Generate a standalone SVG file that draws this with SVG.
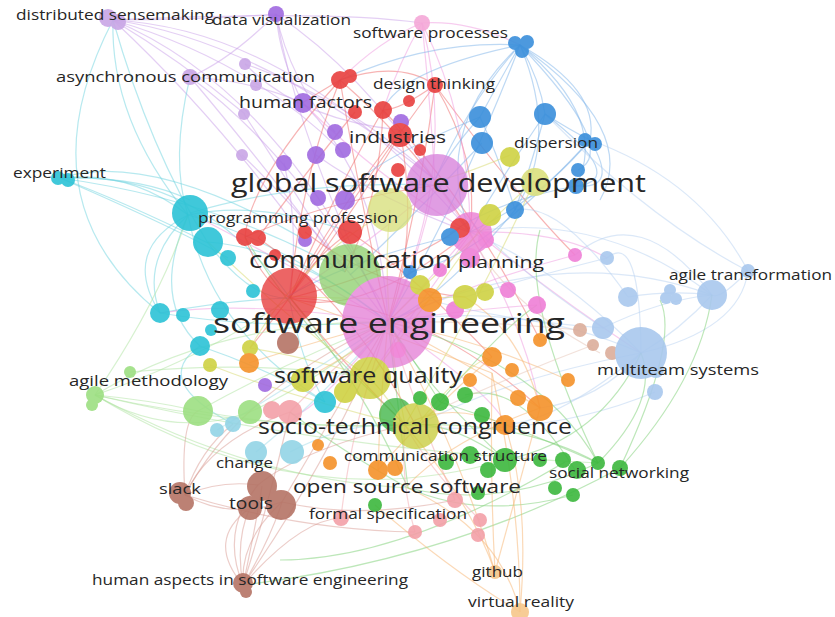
<svg xmlns="http://www.w3.org/2000/svg" width="835" height="617" viewBox="0 0 835 617">
<style>
.e path{fill:none;stroke-width:1.2;opacity:.5}
.lv{stroke:#c9a0ea}.cy{stroke:#6fd3e0}.rd{stroke:#f06a6a}.pk{stroke:#f09adf}.bl{stroke:#7eb4ea}.lb{stroke:#b8d1f2}.gn{stroke:#7ccf74}.lg{stroke:#aee3a0}.br{stroke:#d99c94}.or{stroke:#f7b370}.sl{stroke:#f4a8ae}.tn{stroke:#e6c3b5}.yl{stroke:#d7d96e}.lc{stroke:#a2dbea}
circle{stroke:none}
#nodes{opacity:.9}
.t{font-family:"Open Sans","Noto Sans","DejaVu Sans",sans-serif;fill:#262626}
</style>
<rect width="835" height="617" fill="#ffffff"/>
<g id="connectors" class="e">
<path class="lv" d="M113,20 Q250,60 340,150"/><path class="lv" d="M113,20 Q260,40 435,180"/><path class="lv" d="M113,20 Q300,30 470,232"/><path class="lv" d="M113,20 Q220,120 305,240"/><path class="lv" d="M113,20 Q180,60 245,114"/><path class="lv" d="M113,20 Q280,90 388,322"/><path class="lv" d="M113,20 Q200,20 276,14"/><path class="lv" d="M276,14 Q280,60 303,103"/><path class="lv" d="M276,14 Q360,70 435,180"/><path class="lv" d="M276,14 Q290,80 335,132"/><path class="lv" d="M276,14 Q300,150 388,322"/><path class="lv" d="M276,14 Q230,60 190,77"/><path class="lv" d="M190,77 Q250,80 303,103"/><path class="lv" d="M190,77 Q290,150 380,300"/><path class="lv" d="M190,77 Q260,160 345,272"/><path class="lv" d="M245,64 Q300,120 400,130"/><path class="lv" d="M245,64 Q350,100 435,180"/><path class="lv" d="M244,114 Q300,200 345,272"/><path class="lv" d="M242,155 Q310,220 388,322"/><path class="lv" d="M113,20 Q330,10 422,23"/><path class="lv" d="M303,103 Q380,180 388,322"/><path class="lv" d="M316,155 Q380,200 471,233"/><path class="lv" d="M284,163 Q300,230 289,296"/>
<path class="cy" d="M113,20 Q110,120 188,215"/><path class="cy" d="M113,20 Q150,150 208,243"/><path class="cy" d="M113,20 Q20,200 160,313"/><path class="cy" d="M190,77 Q170,160 188,215"/><path class="cy" d="M60,178 Q130,170 188,215"/><path class="cy" d="M60,178 Q120,200 208,243"/><path class="cy" d="M60,178 Q200,170 290,298"/><path class="cy" d="M60,178 Q220,200 345,272"/><path class="cy" d="M60,178 Q180,230 228,258"/><path class="cy" d="M60,178 Q150,150 305,240"/><path class="cy" d="M60,178 Q140,176 190,200"/><path class="cy" d="M188,215 Q140,260 160,313"/><path class="cy" d="M188,215 Q150,300 200,346"/><path class="cy" d="M188,215 Q280,240 388,322"/><path class="cy" d="M188,215 Q210,330 325,402"/><path class="cy" d="M188,215 Q260,200 350,232"/><path class="cy" d="M208,243 Q250,300 290,298"/><path class="cy" d="M160,313 Q230,300 290,298"/><path class="cy" d="M160,313 Q260,330 388,322"/><path class="cy" d="M200,346 Q270,370 325,402"/><path class="cy" d="M200,346 Q150,380 233,424"/><path class="cy" d="M160,313 Q120,250 188,215"/><path class="cy" d="M325,402 Q300,360 289,296"/><path class="cy" d="M208,242 Q300,250 388,322"/><path class="cy" d="M190,213 Q300,180 437,185"/>
<path class="rd" d="M340,80 Q360,200 388,322"/><path class="rd" d="M340,80 Q300,180 290,298"/><path class="rd" d="M340,80 Q400,60 435,85"/><path class="rd" d="M340,80 Q420,150 470,232"/><path class="rd" d="M435,85 Q420,200 388,322"/><path class="rd" d="M435,85 Q350,200 290,298"/><path class="rd" d="M435,85 Q480,160 470,232"/><path class="rd" d="M383,110 Q330,200 290,298"/><path class="rd" d="M383,110 Q380,200 345,272"/><path class="rd" d="M400,130 Q330,220 290,298"/><path class="rd" d="M400,130 Q420,240 388,322"/><path class="rd" d="M355,112 Q300,180 258,238"/><path class="rd" d="M350,232 Q310,260 290,298"/><path class="rd" d="M245,237 Q260,280 290,298"/><path class="rd" d="M290,298 Q340,360 405,425"/><path class="rd" d="M290,298 Q420,300 540,408"/><path class="rd" d="M290,298 Q360,320 470,232"/><path class="rd" d="M460,228 Q400,270 290,298"/><path class="rd" d="M340,80 Q250,180 245,237"/><path class="rd" d="M435,85 Q520,200 575,255"/><path class="rd" d="M340,80 Q290,110 303,103"/><path class="rd" d="M435,85 Q400,110 383,110"/><path class="rd" d="M245,237 Q330,200 437,185"/><path class="rd" d="M258,238 Q350,300 416,426"/><path class="rd" d="M350,232 Q420,280 492,357"/><path class="rd" d="M305,232 Q380,290 465,297"/><path class="rd" d="M400,135 Q330,250 250,348"/><path class="rd" d="M383,110 Q470,200 540,340"/>
<path class="pk" d="M422,23 Q430,100 435,180"/><path class="pk" d="M422,23 Q460,170 388,322"/><path class="pk" d="M422,23 Q380,40 340,80"/><path class="pk" d="M422,23 Q470,120 470,232"/><path class="pk" d="M422,23 Q470,20 520,45"/><path class="pk" d="M435,180 Q420,260 388,322"/><path class="pk" d="M470,232 Q430,280 388,322"/><path class="pk" d="M575,255 Q480,280 388,322"/><path class="pk" d="M537,305 Q460,310 388,322"/><path class="pk" d="M388,322 Q300,430 290,412"/><path class="pk" d="M388,322 Q500,400 505,425"/><path class="pk" d="M470,232 Q560,230 607,258"/><path class="pk" d="M486,240 Q560,300 641,353"/><path class="pk" d="M422,23 Q400,60 383,110"/><path class="pk" d="M437,185 Q360,250 289,296"/><path class="pk" d="M471,233 Q400,330 370,378"/><path class="pk" d="M388,322 Q300,270 190,213"/><path class="pk" d="M437,185 Q520,300 540,408"/><path class="pk" d="M471,233 Q380,180 303,103"/><path class="pk" d="M388,322 Q250,300 160,313"/>
<path class="bl" d="M520,45 Q500,80 480,117"/><path class="bl" d="M520,45 Q540,80 545,114"/><path class="bl" d="M520,45 Q470,100 435,180"/><path class="bl" d="M520,45 Q460,200 388,322"/><path class="bl" d="M520,45 Q600,90 590,140"/><path class="bl" d="M520,45 Q610,120 576,186"/><path class="bl" d="M520,45 Q620,150 578,170"/><path class="bl" d="M520,45 Q430,40 340,80"/><path class="bl" d="M520,45 Q430,130 470,232"/><path class="bl" d="M520,45 Q560,140 515,210"/><path class="bl" d="M520,45 Q400,70 383,110"/><path class="bl" d="M545,114 Q570,130 590,140"/><path class="bl" d="M545,114 Q530,170 515,210"/><path class="bl" d="M545,114 Q500,180 470,232"/><path class="bl" d="M545,114 Q630,180 576,186"/><path class="bl" d="M480,117 Q450,150 435,180"/><path class="bl" d="M480,117 Q500,160 515,210"/><path class="bl" d="M590,140 Q540,200 470,232"/><path class="bl" d="M590,140 Q620,190 576,186"/><path class="bl" d="M590,140 Q480,260 410,272"/><path class="bl" d="M576,186 Q500,200 450,233"/><path class="bl" d="M520,45 Q640,130 600,200"/><path class="bl" d="M482,143 Q400,230 350,275"/><path class="bl" d="M515,210 Q440,300 388,322"/><path class="bl" d="M450,237 Q350,260 289,296"/><path class="bl" d="M480,117 Q350,170 345,200"/>
<path class="lb" d="M712,295 Q680,330 641,353"/><path class="lb" d="M712,295 Q660,300 603,328"/><path class="lb" d="M712,295 Q560,240 388,322"/><path class="lb" d="M712,295 Q600,210 470,232"/><path class="lb" d="M712,295 Q670,290 628,297"/><path class="lb" d="M712,295 Q640,200 575,255"/><path class="lb" d="M748,271 Q740,330 641,353"/><path class="lb" d="M748,271 Q700,180 590,140"/><path class="lb" d="M748,271 Q650,220 545,114"/><path class="lb" d="M641,353 Q520,300 388,322"/><path class="lb" d="M641,353 Q560,270 470,232"/><path class="lb" d="M641,353 Q600,400 540,408"/><path class="lb" d="M641,353 Q560,420 505,425"/><path class="lb" d="M641,353 Q640,230 607,258"/><path class="lb" d="M603,328 Q500,320 430,300"/><path class="lb" d="M655,392 Q540,440 405,425"/><path class="lb" d="M607,258 Q520,280 465,297"/><path class="lb" d="M628,297 Q560,200 515,210"/><path class="lb" d="M748,271 Q720,300 712,295"/><path class="lb" d="M603,328 Q500,260 437,185"/><path class="lb" d="M641,353 Q500,380 416,426"/>
<path class="gn" d="M598,463 Q520,420 405,425"/><path class="gn" d="M598,463 Q540,360 388,322"/><path class="gn" d="M598,463 Q500,420 440,402"/><path class="gn" d="M598,463 Q500,510 408,488"/><path class="gn" d="M598,463 Q660,400 641,353"/><path class="gn" d="M620,468 Q700,380 712,295"/><path class="gn" d="M575,470 Q520,380 465,395"/><path class="gn" d="M573,495 Q480,520 408,488"/><path class="gn" d="M505,460 Q450,420 405,425"/><path class="gn" d="M505,460 Q420,380 388,322"/><path class="gn" d="M505,460 Q600,440 641,353"/><path class="gn" d="M408,488 Q340,450 290,412"/><path class="gn" d="M408,488 Q400,420 388,322"/><path class="gn" d="M440,402 Q420,370 388,322"/><path class="gn" d="M620,468 Q450,560 243,585"/><path class="gn" d="M565,462 Q400,560 280,560"/><path class="gn" d="M598,463 Q520,300 540,230"/><path class="gn" d="M620,468 Q680,340 660,300"/><path class="gn" d="M407,486 Q360,380 289,296"/><path class="gn" d="M440,402 Q500,330 537,305"/><path class="gn" d="M396,415 Q300,330 245,237"/>
<path class="lg" d="M95,395 Q220,320 388,322"/><path class="lg" d="M95,395 Q250,430 405,425"/><path class="lg" d="M95,395 Q150,400 198,411"/><path class="lg" d="M95,395 Q250,480 408,488"/><path class="lg" d="M95,395 Q200,360 290,298"/><path class="lg" d="M95,395 Q300,520 505,460"/><path class="lg" d="M95,395 Q160,300 188,215"/><path class="lg" d="M198,411 Q290,360 388,322"/><path class="lg" d="M198,411 Q300,430 405,425"/><path class="lg" d="M250,412 Q320,380 388,322"/><path class="lg" d="M130,372 Q260,360 372,378"/><path class="lg" d="M95,395 Q330,450 598,463"/><path class="lg" d="M95,395 Q170,440 250,412"/>
<path class="br" d="M243,585 Q240,540 282,502"/><path class="br" d="M243,585 Q220,530 258,485"/><path class="br" d="M243,585 Q235,540 250,508"/><path class="br" d="M243,585 Q270,500 290,412"/><path class="br" d="M243,585 Q330,460 388,322"/><path class="br" d="M243,585 Q300,520 341,518"/><path class="br" d="M243,585 Q270,540 282,502"/><path class="br" d="M243,585 Q205,540 250,508"/><path class="br" d="M185,495 Q230,520 282,502"/><path class="br" d="M185,495 Q220,480 258,485"/><path class="br" d="M185,495 Q210,440 290,412"/><path class="br" d="M185,495 Q240,390 388,322"/><path class="br" d="M185,495 Q200,450 233,424"/><path class="br" d="M185,495 Q180,420 198,411"/><path class="br" d="M282,502 Q330,420 388,322"/><path class="br" d="M258,485 Q300,450 405,425"/><path class="br" d="M282,502 Q360,520 455,500"/><path class="br" d="M185,495 Q300,530 415,532"/><path class="br" d="M243,585 Q255,530 262,486"/>
<path class="or" d="M495,572 Q470,500 405,425"/><path class="or" d="M495,572 Q460,450 388,322"/><path class="or" d="M495,572 Q520,480 540,408"/><path class="or" d="M495,572 Q490,480 492,373"/><path class="or" d="M520,612 Q520,500 492,373"/><path class="or" d="M520,612 Q500,530 408,488"/><path class="or" d="M520,612 Q450,570 375,505"/><path class="or" d="M520,612 Q530,500 505,425"/><path class="or" d="M540,408 Q460,360 388,322"/><path class="or" d="M492,373 Q380,330 290,298"/><path class="or" d="M540,408 Q520,330 465,297"/><path class="or" d="M378,470 Q380,400 388,322"/><path class="or" d="M568,380 Q480,340 388,322"/><path class="or" d="M505,425 Q450,400 405,425"/><path class="or" d="M430,300 Q360,350 303,380"/><path class="or" d="M492,357 Q420,420 378,470"/><path class="or" d="M540,408 Q450,440 407,486"/><path class="or" d="M249,363 Q320,340 388,322"/>
<path class="sl" d="M415,532 Q400,480 405,425"/><path class="sl" d="M341,518 Q350,430 388,322"/><path class="sl" d="M480,520 Q430,470 405,425"/><path class="sl" d="M290,412 Q330,370 388,322"/><path class="sl" d="M455,500 Q420,420 388,322"/>
<path class="tn" d="M580,330 Q480,320 388,322"/><path class="tn" d="M593,345 Q500,380 405,425"/><path class="tn" d="M600,353 Q500,300 470,232"/>
<path class="yl" d="M535,180 Q460,250 388,322"/><path class="yl" d="M510,155 Q450,180 435,180"/><path class="yl" d="M390,210 Q380,300 405,425"/><path class="yl" d="M370,378 Q390,400 405,425"/><path class="yl" d="M490,215 Q430,300 370,378"/><path class="yl" d="M250,348 Q320,360 370,378"/><path class="yl" d="M210,365 Q300,400 405,425"/><path class="yl" d="M535,180 Q480,300 405,425"/><path class="yl" d="M390,210 Q300,260 250,348"/><path class="yl" d="M465,297 Q350,300 289,296"/><path class="yl" d="M370,378 Q300,330 208,242"/><path class="yl" d="M416,426 Q470,360 492,357"/>
<path class="lc" d="M256,452 Q320,400 388,322"/><path class="lc" d="M217,430 Q300,380 388,322"/><path class="lc" d="M290,452 Q350,420 405,425"/>
</g>
<g id="nodes">
<g id="n-big" opacity=".85">
<circle cx="350" cy="275" r="31" fill="#8fcf6e"/>
<circle cx="437" cy="185" r="31" fill="#d881dc"/>
<circle cx="390" cy="210" r="22" fill="#d8e07a"/>
<circle cx="471" cy="233" r="21" fill="#ec79d3"/>
<circle cx="388" cy="322" r="46" fill="#e57fd6"/>
<circle cx="289" cy="296" r="28" fill="#e83838"/>
<circle cx="370" cy="378" r="21" fill="#c9cc30"/>
<circle cx="396" cy="415" r="17" fill="#3cb544"/>
<circle cx="416" cy="426" r="23" fill="#c8cc3a"/>
</g>
<g id="c-lavender" fill="#c9a6e6">
<circle cx="108" cy="18" r="9"/><circle cx="118" cy="22" r="8"/>
<circle cx="190" cy="77" r="8"/><circle cx="245" cy="64" r="6"/><circle cx="256" cy="85" r="6"/><circle cx="244" cy="114" r="6"/><circle cx="242" cy="155" r="6"/>
</g>
<g id="c-purple" fill="#a06ae0">
<circle cx="276" cy="14" r="8"/><circle cx="303" cy="103" r="10"/><circle cx="284" cy="163" r="8"/><circle cx="316" cy="155" r="9"/><circle cx="343" cy="150" r="8"/><circle cx="335" cy="132" r="8"/><circle cx="318" cy="198" r="8"/><circle cx="345" cy="200" r="10"/><circle cx="305" cy="240" r="7"/><circle cx="401" cy="122" r="8"/><circle cx="265" cy="385" r="7"/>
</g>
<g id="c-red" fill="#e8403f">
<circle cx="340" cy="80" r="9"/><circle cx="350" cy="76" r="7"/><circle cx="435" cy="85" r="8"/><circle cx="355" cy="112" r="7"/><circle cx="383" cy="110" r="9"/><circle cx="409" cy="101" r="6"/><circle cx="400" cy="135" r="12"/><circle cx="420" cy="150" r="6"/><circle cx="398" cy="170" r="7"/><circle cx="245" cy="237" r="9"/><circle cx="258" cy="238" r="8"/><circle cx="305" cy="232" r="7"/><circle cx="350" cy="232" r="12"/><circle cx="460" cy="228" r="10"/><circle cx="275" cy="255" r="6"/>
</g>
<g id="c-pink" fill="#ef7fd6">
<circle cx="486" cy="240" r="8"/><circle cx="470" cy="258" r="10"/><circle cx="440" cy="270" r="7"/><circle cx="575" cy="255" r="7"/><circle cx="537" cy="305" r="9"/><circle cx="508" cy="290" r="8"/><circle cx="455" cy="310" r="9"/><circle cx="398" cy="350" r="8"/>
</g>
<g id="c-blue" fill="#3a8fdb">
<circle cx="515" cy="43" r="7"/><circle cx="527" cy="42" r="7"/><circle cx="522" cy="51" r="7"/><circle cx="480" cy="117" r="11"/><circle cx="545" cy="114" r="11"/><circle cx="482" cy="143" r="11"/><circle cx="585" cy="140" r="7"/><circle cx="595" cy="144" r="7"/><circle cx="578" cy="170" r="7"/><circle cx="576" cy="186" r="8"/><circle cx="515" cy="210" r="9"/><circle cx="450" cy="237" r="9"/><circle cx="410" cy="272" r="7"/>
</g>
<g id="c-yellow" fill="#cfd243">
<circle cx="510" cy="157" r="10"/><circle cx="535" cy="182" r="14" fill="#dbe07e"/><circle cx="490" cy="215" r="11"/><circle cx="420" cy="285" r="10"/><circle cx="465" cy="297" r="12"/><circle cx="485" cy="292" r="9"/><circle cx="250" cy="348" r="8"/><circle cx="210" cy="365" r="7"/><circle cx="303" cy="380" r="12"/><circle cx="345" cy="392" r="11"/>
</g>
<g id="c-green" fill="#3cb83e">
<circle cx="440" cy="402" r="9"/><circle cx="420" cy="398" r="7"/><circle cx="465" cy="395" r="8"/><circle cx="482" cy="415" r="8"/><circle cx="505" cy="460" r="12"/><circle cx="478" cy="493" r="7"/><circle cx="488" cy="470" r="8"/><circle cx="563" cy="460" r="8"/><circle cx="577" cy="470" r="9"/><circle cx="598" cy="463" r="7"/><circle cx="620" cy="468" r="8"/><circle cx="573" cy="495" r="7"/><circle cx="555" cy="488" r="7"/><circle cx="470" cy="455" r="9"/><circle cx="446" cy="462" r="8"/><circle cx="375" cy="505" r="7"/><circle cx="540" cy="460" r="7"/>
</g>
<g id="c-lightgreen" fill="#9ddf82">
<circle cx="95" cy="395" r="9"/><circle cx="92" cy="405" r="6"/><circle cx="130" cy="372" r="6"/><circle cx="198" cy="411" r="15"/><circle cx="250" cy="412" r="12"/>
</g>
<g id="c-orange" fill="#f5922a">
<circle cx="430" cy="300" r="12"/><circle cx="492" cy="357" r="10"/><circle cx="540" cy="340" r="7"/><circle cx="512" cy="370" r="7"/><circle cx="540" cy="408" r="13"/><circle cx="568" cy="380" r="7"/><circle cx="505" cy="425" r="10"/><circle cx="518" cy="398" r="8"/><circle cx="470" cy="380" r="7"/><circle cx="378" cy="470" r="10"/><circle cx="395" cy="468" r="8"/><circle cx="330" cy="463" r="7"/><circle cx="249" cy="363" r="10"/><circle cx="318" cy="445" r="6"/>
</g>
<g id="c-cyan" fill="#2cc3d6">
<circle cx="58" cy="178" r="7"/><circle cx="68" cy="180" r="7"/><circle cx="190" cy="213" r="18"/><circle cx="208" cy="242" r="15"/><circle cx="228" cy="258" r="8"/><circle cx="160" cy="313" r="10"/><circle cx="183" cy="315" r="7"/><circle cx="220" cy="310" r="9"/><circle cx="211" cy="330" r="6"/><circle cx="200" cy="346" r="10"/><circle cx="325" cy="402" r="11"/><circle cx="253" cy="291" r="7"/>
</g>
<g id="c-lightcyan" fill="#93d4e6">
<circle cx="233" cy="424" r="8"/><circle cx="217" cy="430" r="7"/><circle cx="256" cy="452" r="11"/><circle cx="292" cy="452" r="12"/>
</g>
<g id="c-salmon" fill="#f3a0a8">
<circle cx="290" cy="412" r="12"/><circle cx="272" cy="410" r="9"/><circle cx="415" cy="532" r="7"/><circle cx="341" cy="518" r="8"/><circle cx="480" cy="520" r="7"/><circle cx="455" cy="500" r="8"/><circle cx="478" cy="535" r="7"/><circle cx="440" cy="520" r="7"/>
</g>
<g id="c-tan" fill="#dcae9b">
<circle cx="580" cy="330" r="7"/><circle cx="593" cy="345" r="6"/><circle cx="612" cy="353" r="7"/><circle cx="288" cy="343" r="11" fill="#b57466"/>
</g>
<g id="c-lightblue" fill="#a9c8ee">
<circle cx="607" cy="258" r="7"/><circle cx="628" cy="297" r="10"/><circle cx="666" cy="298" r="6"/><circle cx="676" cy="299" r="6"/><circle cx="670" cy="290" r="6"/><circle cx="712" cy="295" r="15"/><circle cx="748" cy="271" r="7"/><circle cx="603" cy="328" r="11"/><circle cx="641" cy="353" r="26"/><circle cx="656" cy="370" r="8"/><circle cx="655" cy="392" r="8"/>
</g>
<g id="c-brown" fill="#b57466">
<circle cx="262" cy="486" r="15"/><circle cx="281" cy="505" r="15"/><circle cx="250" cy="508" r="12"/><circle cx="180" cy="493" r="11"/><circle cx="186" cy="503" r="8"/><circle cx="243" cy="583" r="10"/><circle cx="246" cy="592" r="6"/>
</g>
<g id="c-lightorange" fill="#f6c68a">
<circle cx="495" cy="572" r="7"/><circle cx="520" cy="612" r="9"/><circle cx="422" cy="23" r="8" fill="#f5a8d8"/>
</g>
</g>
<g id="labels" class="t">
<g id="distributed-sensemaking"><text x="16" y="20" font-size="15" textLength="198" lengthAdjust="spacingAndGlyphs">distributed sensemaking</text></g>
<g id="data-visualization"><text x="212" y="25" font-size="15" textLength="139" lengthAdjust="spacingAndGlyphs">data visualization</text></g>
<g id="software-processes"><text x="353" y="38" font-size="15" textLength="155" lengthAdjust="spacingAndGlyphs">software processes</text></g>
<g id="asynchronous-communication"><text x="56" y="82" font-size="15" textLength="259" lengthAdjust="spacingAndGlyphs">asynchronous communication</text></g>
<g id="design-thinking"><text x="373" y="89" font-size="15" textLength="122" lengthAdjust="spacingAndGlyphs">design thinking</text></g>
<g id="human-factors"><text x="239" y="108" font-size="16" textLength="133" lengthAdjust="spacingAndGlyphs">human factors</text></g>
<g id="industries"><text x="349" y="143" font-size="17" textLength="97" lengthAdjust="spacingAndGlyphs">industries</text></g>
<g id="dispersion"><text x="514" y="148" font-size="15" textLength="84" lengthAdjust="spacingAndGlyphs">dispersion</text></g>
<g id="experiment"><text x="13" y="178" font-size="15" textLength="93" lengthAdjust="spacingAndGlyphs">experiment</text></g>
<g id="global-software-development"><text x="231" y="192" font-size="26" textLength="415" lengthAdjust="spacingAndGlyphs">global software development</text></g>
<g id="programming-profession"><text x="198" y="223" font-size="15" textLength="200" lengthAdjust="spacingAndGlyphs">programming profession</text></g>
<g id="communication"><text x="249" y="268" font-size="24" textLength="203" lengthAdjust="spacingAndGlyphs">communication</text></g>
<g id="planning"><text x="458" y="268" font-size="17" textLength="86" lengthAdjust="spacingAndGlyphs">planning</text></g>
<g id="agile-transformation"><text x="669" y="280" font-size="15" textLength="163" lengthAdjust="spacingAndGlyphs">agile transformation</text></g>
<g id="software-engineering"><text x="213" y="333" font-size="28" textLength="352" lengthAdjust="spacingAndGlyphs">software engineering</text></g>
<g id="multiteam-systems"><text x="597" y="375" font-size="15" textLength="162" lengthAdjust="spacingAndGlyphs">multiteam systems</text></g>
<g id="agile-methodology"><text x="69" y="386" font-size="15" textLength="159" lengthAdjust="spacingAndGlyphs">agile methodology</text></g>
<g id="software-quality"><text x="274" y="383" font-size="21" textLength="188" lengthAdjust="spacingAndGlyphs">software quality</text></g>
<g id="socio-technical-congruence"><text x="258" y="434" font-size="21" textLength="314" lengthAdjust="spacingAndGlyphs">socio-technical congruence</text></g>
<g id="change"><text x="216" y="468" font-size="14" textLength="57" lengthAdjust="spacingAndGlyphs">change</text></g>
<g id="communication-structure"><text x="344" y="461" font-size="14" textLength="203" lengthAdjust="spacingAndGlyphs">communication structure</text></g>
<g id="social-networking"><text x="549" y="478" font-size="14" textLength="140" lengthAdjust="spacingAndGlyphs">social networking</text></g>
<g id="slack"><text x="159" y="494" font-size="15" textLength="42" lengthAdjust="spacingAndGlyphs">slack</text></g>
<g id="open-source-software"><text x="293" y="493" font-size="18" textLength="228" lengthAdjust="spacingAndGlyphs">open source software</text></g>
<g id="tools"><text x="229" y="509" font-size="16" textLength="44" lengthAdjust="spacingAndGlyphs">tools</text></g>
<g id="formal-specification"><text x="309" y="519" font-size="14" textLength="158" lengthAdjust="spacingAndGlyphs">formal specification</text></g>
<g id="human-aspects"><text x="92" y="585" font-size="15" textLength="316" lengthAdjust="spacingAndGlyphs">human aspects in software engineering</text></g>
<g id="github"><text x="472" y="577" font-size="14" textLength="51" lengthAdjust="spacingAndGlyphs">github</text></g>
<g id="virtual-reality"><text x="468" y="607" font-size="14" textLength="106" lengthAdjust="spacingAndGlyphs">virtual reality</text></g>
</g>
</svg>
